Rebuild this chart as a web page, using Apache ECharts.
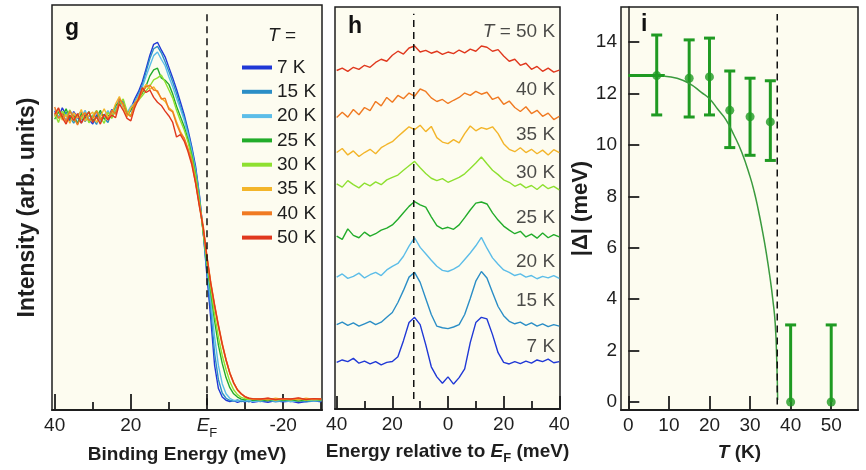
<!DOCTYPE html>
<html>
<head>
<meta charset="utf-8">
<script src="https://cdn.jsdelivr.net/npm/echarts@6/dist/echarts.min.js"></script>
<style>
  html, body { margin: 0; padding: 0; background: #ffffff; }
  #chart { width: 866px; height: 470px; }
</style>
</head>
<body>
<div id="chart"></div>
<script>
// ---------- shared ----------
const tempLabels = ['7 K', '15 K', '20 K', '25 K', '30 K', '35 K', '40 K', '50 K'];
const tempColors = ['#2038d6', '#2b8ec6', '#5cbde8', '#22ac2a', '#8ee030', '#f3b52a', '#f07a22', '#e0381e'];

// ---------- panel g: EDCs (intensity, arb. units) ----------
const bindingEnergy = [40,39,38,37,36,35,34,33,32,31,30,29,28,27,26,25,24,23,22,21,20,19,18,17,16,15,14,13,12,11,10,9,8,7,6,5,4,3,2,1,0,-1,-2,-3,-4,-5,-6,-7,-8,-9,-10,-11,-12,-14,-16,-18,-20,-22,-24,-26,-28,-30];

const edc7K = [73.8,72.1,74.6,72.9,71.4,73.7,72.2,70.9,73.1,71.8,70.6,72.9,71.5,73.0,72.0,74.2,73.3,
  76.2,75.1,73.0,74.4,76.8,
  78.6,81.0,84.2,87.6,90.3,90.8,88.9,87.2,84.6,
  82.0,79.2,76.1,73.0,69.2,65.0,60.2,53.2,44.0,33.0,
  22.5,11.0,5.3,3.2,2.4,2.1,2.3,1.9,2.2,2.0,2.3,1.9,
  2.2,1.9,2.3,2.0,2.2,1.8,2.1,2.3,2.0];
const edc15K = [72.6,74.1,71.8,73.5,72.4,70.8,72.9,73.6,71.2,72.7,71.9,70.5,73.4,72.1,71.0,73.8,74.5,
  75.4,76.3,72.8,73.9,76.0,
  78.0,80.2,83.5,86.8,89.2,89.8,88.2,86.0,83.6,
  81.0,78.2,75.0,72.3,68.6,64.5,59.6,52.8,44.0,34.0,
  25.0,14.0,7.5,4.2,2.9,2.4,2.2,2.5,2.1,2.3,2.0,2.4,
  2.1,2.4,2.0,2.3,2.1,2.4,2.0,2.2,2.3];
const edc20K = [74.2,72.5,73.3,71.5,73.9,72.6,71.1,72.4,74.0,71.6,72.8,73.5,71.2,72.6,73.9,72.4,74.8,
  77.0,74.6,73.4,75.0,75.8,
  77.6,79.6,82.4,85.0,87.5,88.4,86.6,85.0,82.2,
  79.8,77.0,74.4,71.6,68.0,64.0,59.0,52.4,44.2,35.0,
  27.0,18.0,11.0,6.5,4.0,2.9,2.4,2.2,2.5,2.2,2.4,2.1,
  2.3,2.5,2.2,2.4,2.1,2.3,2.5,2.2,2.4];
const edc25K = [71.8,73.6,72.2,74.4,71.9,72.8,70.6,73.2,72.0,73.7,71.4,72.2,74.0,71.8,72.5,73.1,75.2,
  76.0,75.5,72.6,74.2,75.4,
  77.0,78.2,80.0,82.5,84.0,84.4,82.0,81.4,80.4,
  78.0,75.0,72.5,70.0,66.8,63.0,58.2,51.8,44.0,36.0,
  29.0,22.0,16.0,11.5,8.0,5.5,4.0,3.2,2.7,2.5,2.8,2.4,
  2.6,2.3,2.7,2.4,2.6,2.2,2.5,2.7,2.4];
const edc30K = [73.2,71.0,73.8,72.5,74.1,71.3,72.9,71.7,73.4,70.9,72.6,74.0,72.3,70.8,73.5,72.0,74.0,
  75.6,76.8,73.8,72.7,75.1,
  76.5,77.6,78.8,80.0,81.5,82.0,82.7,81.0,79.0,
  77.0,74.0,71.5,69.2,66.2,62.4,57.8,51.5,44.0,36.5,
  30.0,23.5,18.0,13.5,10.0,7.0,5.0,3.8,3.1,2.8,2.6,2.8,
  2.5,2.8,2.4,2.7,2.5,2.8,2.4,2.6,2.5];
const edc35K = [72.4,74.4,71.6,72.9,70.8,73.4,72.1,74.2,71.3,72.8,73.6,71.0,72.4,74.4,72.2,73.0,75.6,
  77.4,74.8,72.4,74.6,75.6,
  77.2,79.0,80.4,79.2,79.8,78.4,77.0,76.2,74.6,
  73.8,71.2,68.8,67.0,64.2,61.0,56.0,50.5,45.0,37.5,
  31.0,25.5,20.5,16.0,12.2,9.0,6.6,4.9,3.9,3.2,2.9,2.7,
  2.8,2.5,2.9,2.6,2.8,2.5,2.9,2.6,2.8];
const edc40K = [74.8,72.0,73.2,71.2,73.8,72.3,70.4,72.6,73.4,71.5,72.0,73.8,71.6,72.9,71.8,74.0,73.0,
  76.8,75.6,73.2,72.4,75.8,
  76.4,78.6,79.8,80.2,79.0,78.8,76.8,77.0,74.2,
  73.6,70.6,68.4,67.2,64.6,61.5,56.4,50.8,45.6,38.0,
  31.5,26.0,21.0,16.5,12.5,9.2,6.8,5.0,4.0,3.2,2.9,2.7,
  2.6,2.9,2.5,2.8,2.6,2.9,2.6,2.8,2.6];
const edc50K = [73.0,74.6,72.2,70.6,72.8,71.5,73.2,70.8,72.5,73.6,71.0,72.4,70.6,73.0,71.6,72.8,72.2,
  75.6,74.0,72.0,71.4,74.6,
  76.8,79.6,78.4,79.0,77.2,76.0,75.2,73.8,72.6,
  71.0,67.4,68.0,66.4,63.8,60.6,56.0,50.2,45.0,37.6,
  31.2,25.8,20.8,16.2,12.4,9.1,6.7,5.0,4.0,3.3,2.9,2.8,
  2.7,2.9,2.6,2.8,2.7,3.0,2.6,2.8,2.7];
const edcCurves = [edc7K, edc15K, edc20K, edc25K, edc30K, edc35K, edc40K, edc50K];

// ---------- panel h: symmetrized EDCs, stacked ----------
const relEnergy = [-40,-38,-36,-34,-32,-30,-28,-26,-24,-22,-20,-18,-16,-14,-12,-10,-8,-6,-4,-2,0,2,4,6,8,10,12,14,16,18,20,22,24,26,28,30,32,34,36,38,40];

const sym7K = [11.6,12.2,11.8,12.6,11.4,11.9,11.2,11.8,11.0,11.6,11.8,13.0,17.0,21.5,22.8,21.0,16.0,10.5,8.0,6.4,8.0,6.2,7.8,10.0,16.5,21.5,22.8,22.4,18.5,14.0,11.6,11.2,11.8,11.3,11.9,11.4,12.2,11.8,12.4,11.5,11.8];
const sym15K = [21.0,21.6,20.8,21.4,20.6,21.2,21.8,21.0,21.6,22.8,24.0,26.5,29.5,32.8,34.0,31.5,27.5,23.5,20.6,20.2,20.0,20.4,21.0,23.5,27.5,31.8,34.2,32.6,29.0,25.5,23.2,21.8,21.2,21.6,20.8,21.4,20.6,21.2,20.5,21.0,20.6];
const sym20K = [32.8,33.6,32.5,33.0,33.8,32.6,33.4,34.0,33.2,34.6,35.5,36.2,38.0,40.5,42.6,40.2,38.6,37.0,35.5,34.5,34.2,34.8,35.6,37.2,38.8,40.6,42.7,40.0,37.6,36.0,34.6,34.0,33.2,33.6,32.8,33.2,32.4,33.0,32.6,33.2,32.5];
const sym25K = [43.0,42.2,44.8,43.2,42.6,44.0,43.0,43.6,44.5,45.0,45.8,47.2,48.8,50.4,51.6,50.8,50.2,47.8,45.6,44.8,45.2,44.7,45.8,47.6,49.5,51.2,51.5,51.0,48.8,47.0,45.5,44.5,43.6,44.2,42.8,43.5,42.5,43.8,42.6,43.4,42.8];
const sym30K = [56.0,55.2,56.8,55.8,55.0,56.2,55.5,56.5,55.8,57.0,57.6,58.2,59.4,60.5,61.6,60.0,58.6,57.4,56.8,57.3,56.4,57.0,57.6,58.5,59.8,61.2,62.7,61.0,59.4,58.3,57.0,56.4,55.4,56.0,55.0,55.6,54.6,55.8,54.8,55.4,54.5];
const sym35K = [63.8,64.8,63.2,64.2,62.8,63.8,64.6,63.5,65.0,65.8,66.5,67.8,69.0,70.2,69.5,70.6,69.0,70.3,67.5,66.4,66.0,67.0,66.2,68.5,70.4,69.2,70.0,69.6,70.2,68.5,66.0,64.6,64.0,65.0,63.8,64.6,63.5,64.4,63.2,64.5,63.8];
const sym40K = [72.5,73.8,72.6,74.5,73.2,75.0,74.2,76.5,75.4,77.5,76.3,78.0,77.2,78.6,77.8,79.6,79.0,77.4,76.5,77.0,76.0,76.8,77.5,78.6,78.0,79.0,78.3,78.8,77.0,77.6,75.8,76.6,75.0,74.0,75.2,73.5,74.3,72.8,73.6,72.0,72.8];
const sym50K = [84.2,84.8,84.0,85.0,84.5,85.5,85.0,86.2,87.0,86.5,88.0,89.0,88.3,89.8,90.3,88.8,89.2,88.5,89.0,88.2,88.8,88.4,89.3,88.6,89.5,89.0,90.3,90.0,89.0,89.4,87.8,86.5,87.0,85.5,86.0,84.5,85.2,84.0,84.8,83.8,84.3];
const symCurves = [sym7K, sym15K, sym20K, sym25K, sym30K, sym35K, sym40K, sym50K];

// curve annotations (x, y in data units of panel h)
const symLabelX = 38.5;
const symLabelY = [15.4, 26.8, 36.7, 47.6, 58.8, 68.2, 79.4, 93.8];
const symLabelText = ['7 K', '15 K', '20 K', '25 K', '30 K', '35 K', '40 K', '{it|T} = 50 K'];
const gapEdgeEnergy = -12.3;

// ---------- panel i: gap vs temperature ----------
const gapTemp = [7, 15, 20, 25, 30, 35, 40, 50];
const gapValue = [12.7, 12.6, 12.65, 11.35, 11.1, 10.9, 0, 0];
const gapErrLow = [11.17, 11.09, 11.17, 9.9, 9.6, 9.4, 0, 0];
const gapErrHigh = [14.28, 14.09, 14.16, 12.88, 12.6, 12.5, 3.0, 3.0];
const fitTemp = [9, 12, 15, 18, 20, 22, 24, 26, 28, 30, 31, 32, 33, 34, 35, 35.6, 36.2, 36.6, 36.8];
const fitGap = [12.68, 12.6, 12.4, 12.05, 11.8, 11.4, 11.0, 10.4, 9.7, 8.77, 8.2, 7.5, 6.7, 5.8, 4.75, 4.0, 3.06, 1.5, 0.08];
const lowTempGap = [[0, 12.7], [9, 12.7]];
const tcValue = 36.7;

// ---------- styling ----------
const FONT = '"Liberation Sans", Arial, Helvetica, sans-serif';
const INK = '#1e1e1e';
const PANEL_BG = '#fdfcf0';
const GREEN = '#1f9a22';

const chart = echarts.init(document.getElementById('chart'), null, { renderer: 'canvas' });

const gridBase = { show: true, backgroundColor: PANEL_BG, borderColor: INK, borderWidth: 1.5, containLabel: false };

function tickAxis(gridIndex, min, max, inverse, ticks, len, extra) {
  return Object.assign({
    type: 'value', gridIndex, min, max, inverse, position: 'bottom',
    axisLine: { show: true, onZero: false, lineStyle: { color: INK, width: 2 } },
    axisTick: { show: true, inside: true, length: len, customValues: ticks, lineStyle: { color: INK, width: 1.8 } },
    axisLabel: { show: false },
    splitLine: { show: false }
  }, extra || {});
}

const richE = {
  it: { fontStyle: 'italic', fontSize: 19, fontFamily: FONT, color: INK, verticalAlign: 'top', lineHeight: 20 },
  sub: { fontSize: 13, fontFamily: FONT, color: INK, verticalAlign: 'top', lineHeight: 13, padding: [11, 0, 0, 0] }
};

const xAxes = [
  // g: binding energy (major)
  Object.assign(tickAxis(0, -30.2, 40.7, true, [40, 20, 0, -20], 16), {
    axisLabel: {
      show: true, customValues: [40, 20, 0, -20], margin: 6, color: INK, fontSize: 19, fontFamily: FONT,
      formatter: v => v === 0 ? '{it|E}{sub|F}' : String(v),
      rich: richE
    },
    name: 'Binding Energy (meV)', nameLocation: 'middle', nameGap: 33,
    nameTextStyle: { fontSize: 19, fontWeight: 'bold', fontFamily: FONT, color: INK }
  }),
  // g: minor ticks
  tickAxis(0, -30.2, 40.7, true, [30, 10, -10, -30], 8, { axisLine: { show: false } }),
  // h: energy relative to E_F (major)
  Object.assign(tickAxis(1, -40.6, 40.25, false, [-40, -20, 0, 20, 40], 13), {
    axisLabel: {
      show: true, customValues: [-40, -20, 0, 20, 40], margin: 6, color: INK, fontSize: 19, fontFamily: FONT,
      formatter: v => String(Math.abs(v))
    },
    name: 'Energy relative to {bi|E}{bs|F} (meV)', nameLocation: 'middle', nameGap: 33,
    nameTextStyle: {
      fontSize: 19, fontWeight: 'bold', fontFamily: FONT, color: INK,
      rich: {
        bi: { fontSize: 19, fontWeight: 'bold', fontStyle: 'italic', fontFamily: FONT, color: INK, verticalAlign: 'top', lineHeight: 20 },
        bs: { fontSize: 13, fontWeight: 'bold', fontFamily: FONT, color: INK, verticalAlign: 'top', lineHeight: 13, padding: [10, 0, 0, 0] }
      }
    }
  }),
  // h: minor ticks
  tickAxis(1, -40.6, 40.25, false, [-30, -10, 10, 30], 8, { axisLine: { show: false } }),
  // i: temperature
  Object.assign(tickAxis(2, -1.8, 56.6, false, [0, 10, 20, 30, 40, 50], 14), {
    axisLabel: { show: true, customValues: [0, 10, 20, 30, 40, 50], margin: 6, color: INK, fontSize: 19, fontFamily: FONT },
    name: '{ti|T} (K)', nameLocation: 'middle', nameGap: 33,
    nameTextStyle: {
      fontSize: 19, fontWeight: 'bold', fontFamily: FONT, color: INK,
      rich: { ti: { fontSize: 19, fontWeight: 'bold', fontStyle: 'italic', fontFamily: FONT, color: INK } }
    }
  })
];

const yAxes = [
  {
    type: 'value', gridIndex: 0, min: 0, max: 100,
    axisLine: { show: false }, axisTick: { show: false }, axisLabel: { show: false }, splitLine: { show: false },
    name: 'Intensity (arb. units)', nameLocation: 'middle', nameGap: 13,
    nameTextStyle: { fontSize: 23, fontWeight: 'bold', fontFamily: FONT, color: INK }
  },
  {
    type: 'value', gridIndex: 1, min: 0, max: 100,
    axisLine: { show: false }, axisTick: { show: false }, axisLabel: { show: false }, splitLine: { show: false }
  },
  {
    type: 'value', gridIndex: 2, min: -0.31, max: 15.37,
    axisLine: { show: true, lineStyle: { color: INK, width: 1.5 } },
    axisTick: { show: true, inside: true, length: 11, customValues: [0, 2, 4, 6, 8, 10, 12, 14], lineStyle: { color: INK, width: 1.8 } },
    axisLabel: { show: true, customValues: [0, 2, 4, 6, 8, 10, 12, 14], margin: 4, color: INK, fontSize: 19, fontFamily: FONT },
    splitLine: { show: false },
    name: '|Δ| (meV)', nameLocation: 'middle', nameGap: 29,
    nameTextStyle: { fontSize: 22, fontWeight: 'bold', fontFamily: FONT, color: INK }
  }
];

const series = [];

// g: EDC curves
edcCurves.forEach((vals, k) => {
  series.push({
    name: tempLabels[k], type: 'line', xAxisIndex: 0, yAxisIndex: 0,
    data: bindingEnergy.map((e, i) => [e, vals[i]]),
    showSymbol: false, symbol: 'none', smooth: false, silent: true,
    color: tempColors[k],
    lineStyle: { width: 1.4, color: tempColors[k] }
  });
});
// g: Fermi level marker
series.push({
  type: 'line', xAxisIndex: 0, yAxisIndex: 0, data: [[0, 1.2], [0, 98]],
  symbol: 'none', silent: true, lineStyle: { color: '#111', width: 1.5, type: [7, 5] }
});

// h: symmetrized curves
symCurves.forEach((vals, k) => {
  series.push({
    name: 'sym ' + tempLabels[k], type: 'line', xAxisIndex: 2, yAxisIndex: 1,
    data: relEnergy.map((e, i) => [e, vals[i]]),
    showSymbol: false, symbol: 'none', silent: true,
    lineStyle: { width: 1.4, color: tempColors[k] }
  });
});
// h: gap edge marker
series.push({
  type: 'line', xAxisIndex: 2, yAxisIndex: 1, data: [[gapEdgeEnergy, 2.5], [gapEdgeEnergy, 98.3]],
  symbol: 'none', silent: true, lineStyle: { color: '#111', width: 1.5, type: [7, 5] }
});
// h: temperature annotations
series.push({
  type: 'scatter', xAxisIndex: 2, yAxisIndex: 1, symbolSize: 0, silent: true,
  data: symLabelY.map(y => [symLabelX, y]),
  label: {
    show: true, position: 'left', distance: 0,
    formatter: p => symLabelText[p.dataIndex],
    fontSize: 19, fontFamily: FONT, color: INK,
    rich: { it: { fontStyle: 'italic', fontSize: 19, fontFamily: FONT, color: INK } }
  }
});

// i: fit curve
series.push({
  type: 'line', xAxisIndex: 4, yAxisIndex: 2, data: fitTemp.map((t, i) => [t, fitGap[i]]),
  symbol: 'none', smooth: true, silent: true, lineStyle: { color: '#3a9a3e', width: 1.5 }
});
series.push({
  type: 'line', xAxisIndex: 4, yAxisIndex: 2, data: lowTempGap,
  symbol: 'none', silent: true, lineStyle: { color: GREEN, width: 3 }
});
// i: Tc marker
series.push({
  type: 'line', xAxisIndex: 4, yAxisIndex: 2, data: [[tcValue, -0.1], [tcValue, 15.1]],
  symbol: 'none', silent: true, lineStyle: { color: '#111', width: 1.5, type: [7, 5] }
});
// i: error bars
series.push({
  type: 'custom', xAxisIndex: 4, yAxisIndex: 2, silent: true,
  data: gapTemp.map((t, i) => [t, gapValue[i], gapErrLow[i], gapErrHigh[i]]),
  renderItem: (params, api) => {
    const t = api.value(0), v = api.value(1), lo = api.value(2), hi = api.value(3);
    const pHi = api.coord([t, hi]);
    const pLo = api.coord([t, lo]);
    const cap = 5.5;
    const style = { stroke: GREEN, lineWidth: 3 };
    const children = [
      { type: 'line', shape: { x1: pLo[0], y1: pLo[1], x2: pHi[0], y2: pHi[1] }, style },
      { type: 'line', shape: { x1: pHi[0] - cap, y1: pHi[1], x2: pHi[0] + cap, y2: pHi[1] }, style }
    ];
    if (lo < v) {
      children.push({ type: 'line', shape: { x1: pLo[0] - cap, y1: pLo[1], x2: pLo[0] + cap, y2: pLo[1] }, style });
    }
    return { type: 'group', children };
  }
});
// i: gap points
series.push({
  type: 'scatter', xAxisIndex: 4, yAxisIndex: 2, silent: true,
  data: gapTemp.map((t, i) => [t, gapValue[i]]),
  symbol: 'circle', symbolSize: 9, itemStyle: { color: GREEN }
});

const option = {
  animation: false,
  backgroundColor: '#ffffff',
  textStyle: { fontFamily: FONT },
  grid: [
    Object.assign({ left: 52, top: 5, width: 270, height: 405 }, gridBase),
    Object.assign({ left: 335, top: 7, width: 225, height: 403 }, gridBase),
    Object.assign({ left: 621, top: 7, width: 237, height: 403 }, gridBase)
  ],
  xAxis: xAxes,
  yAxis: yAxes,
  legend: {
    data: tempLabels, orient: 'vertical', left: 237, top: 53,
    icon: 'rect', itemWidth: 30, itemHeight: 4, itemGap: 5.3, selectedMode: false,
    textStyle: { fontSize: 19, fontFamily: FONT, color: INK, lineHeight: 19 }
  },
  graphic: [
    { type: 'text', left: 65, top: 17, style: { text: 'g', font: 'bold 23px ' + FONT, fill: '#111' } },
    { type: 'text', left: 348, top: 15, style: { text: 'h', font: 'bold 23px ' + FONT, fill: '#111' } },
    { type: 'text', left: 641, top: 13, style: { text: 'i', font: 'bold 23px ' + FONT, fill: '#111' } },
    {
      type: 'text', left: 268, top: 26,
      style: {
        text: '{it|T} =', font: '19px ' + FONT, fill: INK,
        rich: { it: { fontStyle: 'italic', fontSize: 19, fontFamily: FONT, fill: INK } }
      }
    }
  ],
  series
};

chart.setOption(option);
</script>
</body>
</html>
